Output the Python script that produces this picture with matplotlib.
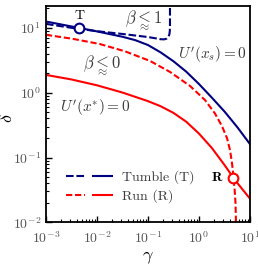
import matplotlib
matplotlib.use('Agg')
import matplotlib.pyplot as plt
from matplotlib.legend_handler import HandlerTuple

plt.rcParams['mathtext.fontset'] = 'cm'
plt.rcParams['font.family'] = 'serif'
plt.rcParams['font.serif'] = ['cmr10', 'DejaVu Serif']
plt.rcParams['axes.unicode_minus'] = False
plt.rcParams['axes.formatter.use_mathtext'] = True
plt.rcParams['lines.scale_dashes'] = False

# U'(x_s) = 0  (tumble, solid)
gam_us = [0.001, 0.00316, 0.01, 0.0316, 0.0562, 0.1, 0.178, 0.316, 0.562,
          1.0, 1.78, 3.16, 5.62, 10]
del_us = [12.5, 10.5, 8.81, 7.28, 6.46, 5.43, 4.17, 3.05, 2.11,
          1.36, 0.841, 0.513, 0.295, 0.161]

# beta <~ 1  (tumble, dashed)
gam_b1 = [0.001, 0.00316, 0.01, 0.0316, 0.1, 0.141, 0.178, 0.209, 0.234,
          0.251, 0.263, 0.268, 0.27, 0.27]
del_b1 = [11.5, 10.0, 8.87, 8.04, 7.21, 6.89, 6.67, 6.64, 6.84,
          7.24, 7.94, 8.91, 11.2, 40]

# U'(x*) = 0  (run, solid)
gam_ux = [0.001, 0.00316, 0.01, 0.0316, 0.1, 0.178, 0.316, 0.562, 1.0,
          1.78, 3.16, 4.71, 5.62, 10]
del_ux = [1.88, 1.60, 1.30, 1.005, 0.741, 0.617, 0.488, 0.357, 0.234,
          0.141, 0.0769, 0.0489, 0.0407, 0.0232]

# beta <~ 0  (run, dashed)
gam_b0 = [0.001, 0.00338, 0.01146, 0.0354, 0.1094, 0.270, 0.667, 1.31, 2.06,
          2.82, 3.54, 4.06, 4.44, 4.75, 5.01, 5.20, 5.31, 5.33]
del_b0 = [7.80, 6.76, 5.62, 4.34, 3.09, 2.09, 1.27, 0.771, 0.477,
          0.305, 0.1995, 0.130, 0.0818, 0.0498, 0.0313, 0.0197, 0.01005, 0.0076]

t_point = (0.0045, 10.0)
r_point = (4.71, 0.049)

navy = '#000080'
red = '#ff0000'
txt = '#3a3a3a'

fig = plt.figure(figsize=(2.58, 2.67), dpi=100)
ax = fig.add_axes([0.178, 0.167, 0.791, 0.812])

ax.plot(gam_us, del_us, color=navy, lw=1.5)
bl_d, = ax.plot(gam_b1, del_b1, color=navy, lw=1.5, dashes=(5.5, 2))
ax.plot(gam_ux, del_ux, color=red, lw=1.5)
rd_d, = ax.plot(gam_b0, del_b0, color=red, lw=1.5, dashes=(4.5, 2))

ax.plot(*t_point, 'o', ms=7, mfc='white', mec=navy, mew=1.5, zorder=5)
ax.plot(*r_point, 'o', ms=7, mfc='white', mec=red, mew=1.5, zorder=5)

ax.text(t_point[0], 15.3, r'$\mathrm{T}$', fontsize=10, ha='center', va='center')
ax.text(2.31, r_point[1], r'$\mathbf{R}$', fontsize=10, ha='center', va='center')
ax.text(0.0835, 13.0, r'$\beta \underset{\approx}{<} 1$', fontsize=12, color=txt,
        ha='center', va='center')
ax.text(0.0128, 2.6, r'$\beta \underset{\approx}{<} 0$', fontsize=12, color=txt,
        ha='center', va='center')
ax.text(1.84, 3.83, r"$U'(x_s) = 0$", fontsize=11, color=txt, ha='center', va='center')
ax.text(0.00914, 0.574, r"$U'(x^{*}) = 0$", fontsize=11, color=txt, ha='center', va='center')

# legend handles: dashed + solid side by side
bl_s, = ax.plot([], [], color=navy, lw=1.5)
rd_s, = ax.plot([], [], color=red, lw=1.5)
leg = ax.legend([(bl_d, bl_s), (rd_d, rd_s)], ['Tumble (T)', 'Run (R)'],
                handler_map={tuple: HandlerTuple(ndivide=None, pad=0.55)},
                loc='upper left', bbox_to_anchor=(0.1, 0.24), frameon=False,
                borderpad=0, borderaxespad=0, handlelength=3.3, handletextpad=0.7,
                labelspacing=0.4, fontsize=10, labelcolor=txt)

ax.set_xscale('log')
ax.set_yscale('log')
ax.set_xlim(1e-3, 10)
ax.set_ylim(1e-2, 22)

ax.tick_params(which='both', direction='in', top=False, right=False,
               labelcolor='#555555', labelsize=10)
ax.tick_params(which='major', length=4, width=1)
ax.tick_params(which='minor', length=2.2, width=0.8)
ax.tick_params(axis='x', which='major', pad=6)
for s in ax.spines.values():
    s.set_linewidth(1.3)

ax.set_xlabel(r'$\gamma$', fontsize=13, labelpad=2)
ax.set_ylabel(r'$\delta$', fontsize=13)
ax.yaxis.set_label_coords(-0.15, 0.48)

fig.savefig('out.png', dpi=100)
